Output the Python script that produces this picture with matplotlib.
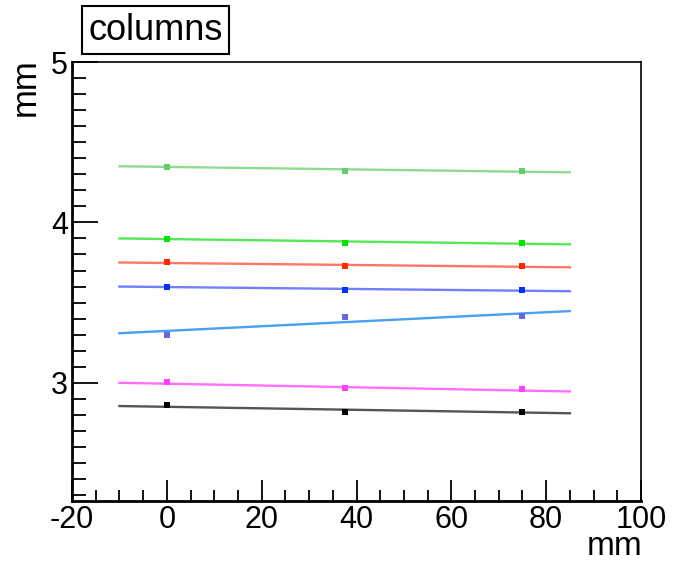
import matplotlib
matplotlib.use("Agg")
import matplotlib.pyplot as plt
from matplotlib.ticker import MultipleLocator

plt.rcParams['font.family'] = ['Liberation Sans', 'DejaVu Sans']
plt.rcParams['axes.unicode_minus'] = False

# measured positions (mm) and column values (mm)
x_pts = [0, 37.5, 75]
col1 = [4.348, 4.320, 4.318]
col2 = [3.899, 3.872, 3.874]
col3 = [3.750, 3.727, 3.729]
col4 = [3.600, 3.578, 3.580]
col5 = [3.300, 3.410, 3.416]
col6 = [3.002, 2.965, 2.961]
col7 = [2.859, 2.820, 2.818]

# fitted lines, value at x=-10 and x=85
fit_x = [-10, 85]
fit1 = [4.350, 4.312]
fit2 = [3.900, 3.863]
fit3 = [3.750, 3.720]
fit4 = [3.600, 3.571]
fit5 = [3.309, 3.447]
fit6 = [3.000, 2.946]
fit7 = [2.855, 2.810]

series = [
    (col1, fit1, '#66cc66', '#8fdc8f'),
    (col2, fit2, '#00e000', '#55e855'),
    (col3, fit3, '#ff2a00', '#ff7766'),
    (col4, fit4, '#0033ff', '#7080ff'),
    (col5, fit5, '#6868d8', '#4aa0f0'),
    (col6, fit6, '#ff40ff', '#ff70ff'),
    (col7, fit7, '#000000', '#555555'),
]

fig = plt.figure(figsize=(6.73, 5.61), dpi=100)
ax = fig.add_axes([72/673, 1-501/561, (641-72)/673, (501-62)/561])

for pts, fit, mcol, lcol in series:
    ax.plot(fit_x, fit, color=lcol, lw=1.7, zorder=2)
    ax.plot(x_pts, pts, 's', color=mcol, ms=4.8, mew=0, zorder=3)

ax.set_xlim(-20, 100)
ax.set_ylim(2.263, 5.0)
ax.xaxis.set_major_locator(MultipleLocator(20))
ax.xaxis.set_minor_locator(MultipleLocator(5))
ax.yaxis.set_major_locator(MultipleLocator(1))
ax.yaxis.set_minor_locator(MultipleLocator(0.1))
ax.tick_params(which='both', direction='in', top=False, right=False,
               labelsize=22, width=1.3, colors='black')
ax.tick_params(axis='y', which='major', length=19, pad=3)
ax.tick_params(axis='y', which='minor', length=10)
ax.tick_params(axis='x', which='major', length=15, pad=3)
ax.tick_params(axis='x', which='minor', length=8)
ax.spines['left'].set_linewidth(2)
ax.spines['bottom'].set_linewidth(2)
ax.spines['top'].set_linewidth(1.2)
ax.spines['right'].set_linewidth(1.2)

fig.text(25/673, 1-58/561, 'mm', rotation=90, ha='center', va='top', fontsize=25)
fig.text(642/673, 1-555/561, 'mm', ha='right', va='baseline', fontsize=24)
fig.text(88/673, 1-30/561, 'columns', ha='left', va='center', fontsize=26,
         bbox=dict(boxstyle='square,pad=0.17', fc='white', ec='black', lw=1.5))

fig.savefig('out.png', dpi=100)
